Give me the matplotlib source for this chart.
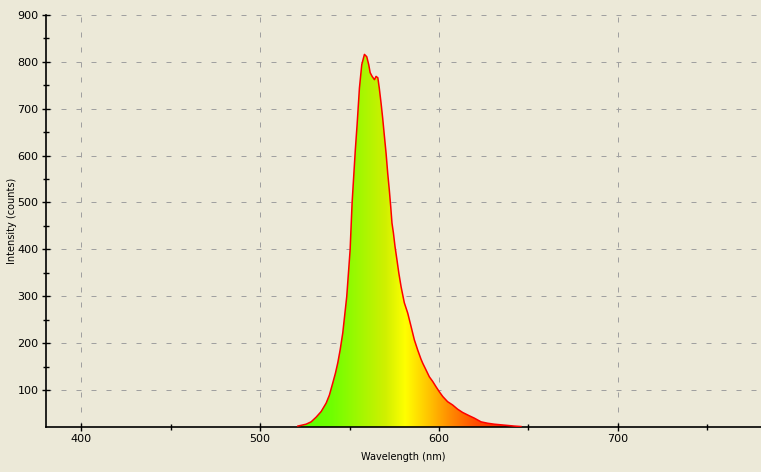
import numpy as np
import matplotlib
matplotlib.use("Agg")
import matplotlib.pyplot as plt
from matplotlib.colors import LinearSegmentedColormap
from matplotlib.patches import Polygon

# spectrum (wavelength nm, counts)
wavelength = [521.1, 525.7, 528.5, 531.3, 534.1, 536.9, 538.7, 540.6, 542.1, 543.4,
              544.7, 546.2, 548.4, 550.3, 551.4, 553.2, 554.2, 555.5, 556.8, 558.3,
              559.6, 560.7, 561.5, 562.6, 563.9, 564.8, 565.8, 566.6, 567.6, 568.5,
              569.4, 570.4, 571.3, 572.2, 573.0, 573.7, 574.5, 575.4, 576.5, 577.5,
              578.8, 580.6, 582.5, 584.4, 586.2, 588.1, 589.9, 590.9, 592.7, 594.6,
              596.5, 598.3, 600.2, 602.1, 604.8, 607.6, 610.4, 613.2, 616.9, 619.7,
              623.5, 627.2, 630.9, 636.5, 642.0, 645.8]
counts = [23, 27, 32, 42, 54, 72, 89, 115, 136, 158,
          185, 222, 299, 399, 499, 612, 666, 744, 794, 816,
          811, 794, 777, 769, 762, 769, 766, 744, 712, 680,
          644, 605, 563, 527, 491, 456, 435, 406, 377, 350,
          320, 286, 264, 235, 207, 185, 166, 157, 143, 128,
          118, 107, 96, 86, 75, 68, 59, 52, 45, 40,
          32, 29, 27, 25, 23, 22]

# fill colour by wavelength
color_nm = [520, 540, 555, 570, 581, 595, 605, 620, 645]
color_hex = ["#55ff00", "#70ff00", "#a0f800", "#d0f000", "#ffff00",
             "#ffc000", "#ff9000", "#ff5000", "#ff1000"]

xticks = [400, 500, 600, 700]
yticks = [100, 200, 300, 400, 500, 600, 700, 800, 900]

bg = "#ece9d8"
fig = plt.figure(figsize=(7.61, 4.72), dpi=100, facecolor=bg)
ax = fig.add_axes([45.5 / 761, 45 / 472, 715.5 / 761, 412 / 472], facecolor=bg)
ax.set_xlim(380, 780)
ax.set_ylim(21, 900)

# gradient clipped by the spectrum outline
lo, hi = color_nm[0], color_nm[-1]
cmap = LinearSegmentedColormap.from_list(
    "spec", [((c - lo) / (hi - lo), h) for c, h in zip(color_nm, color_hex)])
grad = np.linspace(0, 1, 512).reshape(1, -1)
img = ax.imshow(grad, cmap=cmap, aspect="auto", extent=(lo, hi, 0, 900),
                zorder=2, interpolation="bilinear")
wl = np.array(wavelength)
ct = np.array(counts)
poly = Polygon(np.column_stack([np.concatenate([[wl[0]], wl, [wl[-1]]]),
                                np.concatenate([[0], ct, [0]])]),
               closed=True, facecolor="none", edgecolor="none",
               transform=ax.transData)
ax.add_patch(poly)
img.set_clip_path(poly)
ax.plot(wl, ct, color="#ff0000", lw=1.1, zorder=3)

# axes styling
for s in ["top", "right"]:
    ax.spines[s].set_visible(False)
for s in ["left", "bottom"]:
    ax.spines[s].set_linewidth(1.2)
ax.set_xticks(xticks)
ax.set_xticks([450, 550, 650, 750], minor=True)
ax.set_yticks(yticks)
ax.set_yticks([150, 250, 350, 450, 550, 650, 750, 850], minor=True)
ax.tick_params(which="major", direction="inout", length=6, width=1,
               labelsize=8, pad=2)
ax.tick_params(which="minor", direction="inout", length=5, width=1)
ax.grid(True, which="major", color="#a0a0a0", lw=0.72,
        linestyle=(0, (5, 10)), zorder=1)
ax.set_axisbelow(True)
ax.set_xlabel("Wavelength (nm)", fontsize=7)
ax.set_ylabel("Intensity (counts)", fontsize=7)
ax.xaxis.set_label_coords((403 - 45.5) / 715.5, -25 / 412)
ax.yaxis.set_label_coords((17 - 45.5) / 715.5, 0.5)

fig.savefig("out.png", dpi=100, facecolor=bg)
